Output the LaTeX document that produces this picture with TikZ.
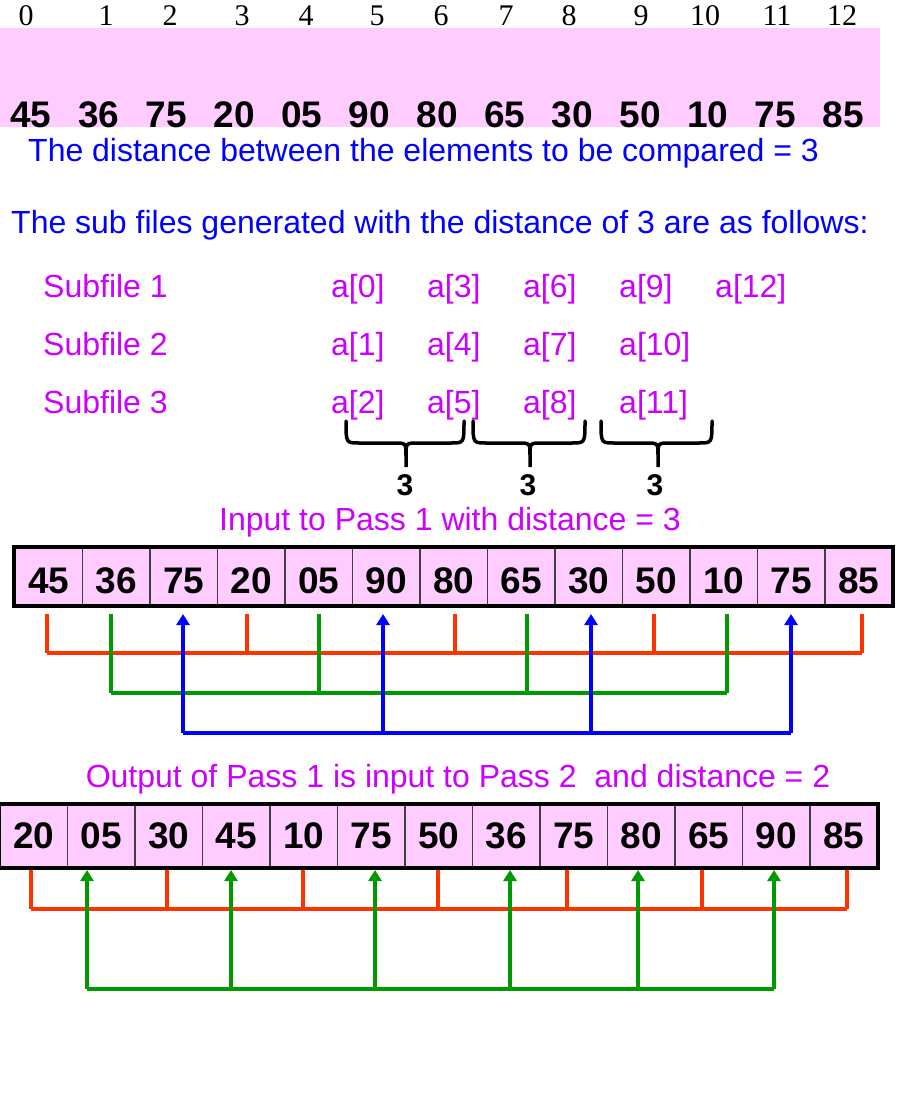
\documentclass[tikz,border=0pt]{standalone}
\usepackage{fontspec}
\setmainfont{Liberation Sans}
\newfontfamily\idxfont{Liberation Serif}
\usetikzlibrary{positioning, arrows.meta, calc}
\definecolor{cellpink}{RGB}{255,204,255}
\definecolor{subviolet}{RGB}{204,0,255}
\definecolor{textblue}{RGB}{0,0,255}
\definecolor{tapred}{RGB}{255,51,0}
\definecolor{tapgreen}{RGB}{0,153,0}
\definecolor{tapblue}{RGB}{0,0,255}

\tikzset{
  bigtxt/.style={inner sep=0pt, font=\fontsize{32}{32}\selectfont},
  valtxt/.style={inner sep=0pt, font=\fontsize{37}{37}\selectfont\bfseries},
  idxtxt/.style={inner sep=0pt, font=\fontsize{30}{30}\selectfont\idxfont},
  gaptxt/.style={inner sep=0pt, anchor=base, font=\fontsize{30}{30}\selectfont\bfseries},
  cellbox/.style={draw=black!75, line width=1.2pt, fill=cellpink, minimum width=67.5pt,
    minimum height=57pt, inner sep=0pt, font=\fontsize{37}{37}\selectfont\bfseries},
  tapline/.style={line width=3.5pt},
  tiparrow/.style={line width=3.5pt, -{Triangle[length=11pt,width=13pt]}},
  bracemark/.style={line width=3.5pt, line cap=round}
}

\begin{document}
\begin{tikzpicture}[x=1pt, y=-1pt]
    \useasboundingbox (0,0) rectangle (905,1116);

    % array with its indices
    \fill[cellpink] (0,28) rectangle (880,127);
    \foreach \x [count=\i from 0] in {26,106,170,242,306,377,441,506,569,641,705,777,842}
        \node[idxtxt, anchor=base] (idx\i) at (\x,26) {\i};
    \foreach \v [count=\i from 0] in {45,36,75,20,05,90,80,65,30,50,10,75,85}
        \node[valtxt, anchor=base] (val\i) at ({31+67.67*\i},127) {\v};

    \node[bigtxt, textblue, anchor=base west] (dist) at (28,161)
        {The distance between the elements to be compared = 3};
    \node[bigtxt, textblue, anchor=base west] (subs) at (11,233)
        {The sub files generated with the distance of 3 are as follows:};

    % sub files
    \node[bigtxt, subviolet, anchor=base west] (sf1) at (43,297) {Subfile 1};
    \node[bigtxt, subviolet, anchor=base west] (sf2) at (43,355) {Subfile 2};
    \node[bigtxt, subviolet, anchor=base west] (sf3) at (43,413) {Subfile 3};
    \foreach \k in {0,...,4}
        \node[bigtxt, subviolet, anchor=base west] (ra\k) at ({331+96*\k},297) {a[\pgfmathparse{int(3*\k)}\pgfmathresult]};
    \foreach \k in {0,...,3}
        \node[bigtxt, subviolet, anchor=base west] (rb\k) at ({331+96*\k},355) {a[\pgfmathparse{int(3*\k+1)}\pgfmathresult]};
    \foreach \k in {0,...,3}
        \node[bigtxt, subviolet, anchor=base west] (rc\k) at ({331+96*\k},413) {a[\pgfmathparse{int(3*\k+2)}\pgfmathresult]};

    % braces
    \foreach \l/\m/\r in {346/406/464, 473/530/585, 601/658/712}
        \draw[bracemark] (\l,421) .. controls (\l,443) .. ({\l+13},443) -- ({\m-12},443)
            .. controls (\m,443) .. (\m,456) -- (\m,467) -- (\m,456) .. controls (\m,443) .. ({\m+12},443)
            -- ({\r-13},443) .. controls (\r,443) .. (\r,421);
    \node[gaptxt] (gap1) at (405,495) {3};
    \node[gaptxt] (gap2) at (528,495) {3};
    \node[gaptxt] (gap3) at (655,495) {3};

    % pass 1
    \node[bigtxt, subviolet, anchor=base] (pass1) at (450,530) {Input to Pass 1 with distance = 3};
    \foreach \v [count=\i from 0] in {45,36,75,20,05,90,80,65,30,50,10,75,85}
        \node[cellbox, text height=33pt, text depth=0pt] (pa\i) at ({48.75+67.5*\i},576.5) {\v};
    \draw[line width=4pt] (pa0.north west) rectangle (pa12.south east);

    \foreach \x [count=\i] in {47,247,455,654,862} {
        \coordinate (redtap\i) at (\x,614);
        \coordinate (redbus\i) at (\x,653);
        \draw[tapline, tapred] (redtap\i) -- (redbus\i);
    }
    \draw[tapline, tapred] (redbus1) -- (redbus5);
    \foreach \x [count=\i] in {111,319,527,727} {
        \coordinate (greentap\i) at (\x,614);
        \coordinate (greenbus\i) at (\x,693);
        \draw[tapline, tapgreen] (greentap\i) -- (greenbus\i);
    }
    \draw[tapline, tapgreen] (greenbus1) -- (greenbus4);
    \foreach \x [count=\i] in {183,383,591,791} {
        \coordinate (bluetap\i) at (\x,614);
        \coordinate (bluebus\i) at (\x,733);
        \draw[tiparrow, tapblue] (bluebus\i) -- (bluetap\i);
    }
    \draw[tapline, tapblue] (bluebus1) -- (bluebus4);

    % pass 2
    \node[bigtxt, subviolet, anchor=base] (pass2) at (458,787) {Output of Pass 1 is input to Pass 2\ \ and distance = 2};
    \foreach \v [count=\i from 0] in {20,05,30,45,10,75,50,36,75,80,65,90,85}
        \node[cellbox, minimum height=62pt, text height=24pt, text depth=0pt] (pb\i) at ({33.75+67.5*\i},836) {\v};
    \draw[line width=4pt] (pb0.north west) rectangle (pb12.south east);

    \foreach \x [count=\i] in {31,167,303,438,567,702,847} {
        \coordinate (redtip\i) at (\x,870);
        \coordinate (redrail\i) at (\x,909);
        \draw[tapline, tapred] (redtip\i) -- (redrail\i);
    }
    \draw[tapline, tapred] (redrail1) -- (redrail7);
    \foreach \x [count=\i] in {87,231,375,510,638,774} {
        \coordinate (greentip\i) at (\x,870);
        \coordinate (greenrail\i) at (\x,989);
        \draw[tiparrow, tapgreen] (greenrail\i) -- (greentip\i);
    }
    \draw[tapline, tapgreen] (greenrail1) -- (greenrail6);
\end{tikzpicture}
\end{document}
